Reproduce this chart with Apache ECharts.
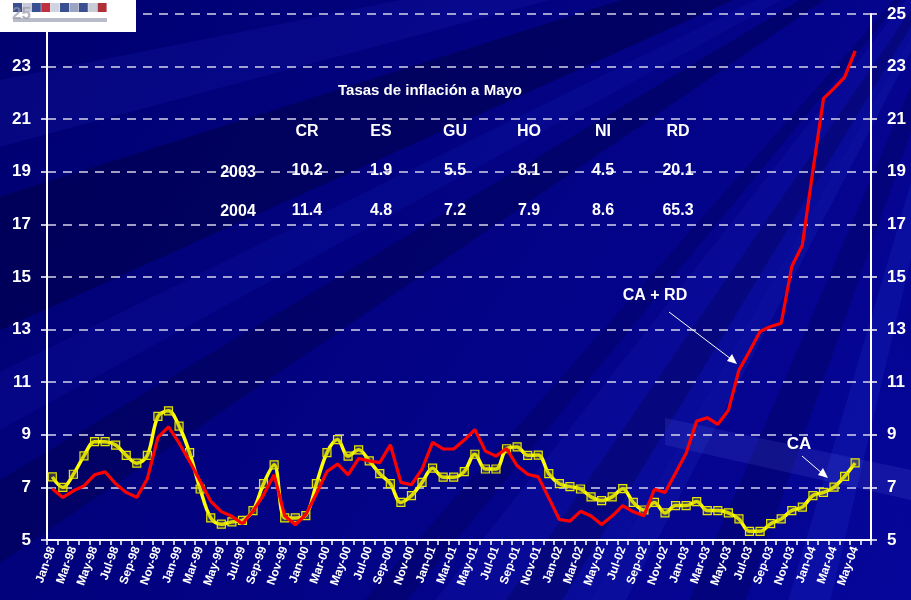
<!DOCTYPE html>
<html>
<head>
<meta charset="utf-8">
<script src="https://cdn.jsdelivr.net/npm/echarts@6/dist/echarts.min.js"></script>
<style>html,body{margin:0;padding:0;background:#02027c;}#c{width:911px;height:600px;}</style>
</head>
<body>
<div id="c"></div>
<script>
var months = ['Jan-98','Feb-98','Mar-98','Apr-98','May-98','Jun-98','Jul-98','Aug-98','Sep-98','Oct-98','Nov-98','Dec-98',
'Jan-99','Feb-99','Mar-99','Apr-99','May-99','Jun-99','Jul-99','Aug-99','Sep-99','Oct-99','Nov-99','Dec-99',
'Jan-00','Feb-00','Mar-00','Apr-00','May-00','Jun-00','Jul-00','Aug-00','Sep-00','Oct-00','Nov-00','Dec-00',
'Jan-01','Feb-01','Mar-01','Apr-01','May-01','Jun-01','Jul-01','Aug-01','Sep-01','Oct-01','Nov-01','Dec-01',
'Jan-02','Feb-02','Mar-02','Apr-02','May-02','Jun-02','Jul-02','Aug-02','Sep-02','Oct-02','Nov-02','Dec-02',
'Jan-03','Feb-03','Mar-03','Apr-03','May-03','Jun-03','Jul-03','Aug-03','Sep-03','Oct-03','Nov-03','Dec-03',
'Jan-04','Feb-04','Mar-04','Apr-04','May-04','Jun-04'];

var caValues = [7.4,7.0,7.5,8.2,8.74,8.74,8.61,8.22,7.92,8.22,9.7,9.91,
9.33,8.32,6.94,5.84,5.6,5.69,5.75,6.12,7.14,7.86,5.84,5.84,
5.93,7.14,8.32,8.82,8.19,8.43,8.01,7.52,7.14,6.43,6.69,7.19,
7.73,7.39,7.39,7.6,8.26,7.7,7.7,8.47,8.54,8.22,8.23,7.52,
7.14,7.03,6.94,6.64,6.5,6.64,6.95,6.43,6.14,6.43,6.03,6.31,
6.31,6.46,6.12,6.12,6.03,5.8,5.33,5.33,5.62,5.8,6.12,6.25,
6.69,6.81,7.01,7.42,7.93];

var caRdValues = [6.95,6.62,6.87,7.06,7.48,7.59,7.14,6.81,6.62,7.33,8.9,9.3,
8.69,7.99,7.23,6.47,6.08,5.9,5.62,6.1,6.72,7.48,5.92,5.58,
5.97,6.76,7.6,7.89,7.48,8.1,8.01,7.94,8.62,7.19,7.1,7.69,
8.71,8.46,8.46,8.8,9.2,8.38,8.19,8.48,7.82,7.5,7.4,6.6,
5.78,5.72,6.09,5.91,5.59,5.91,6.31,6.07,5.92,6.93,6.81,7.55,
8.3,9.52,9.65,9.4,9.93,11.46,12.18,12.93,13.12,13.24,15.4,16.21,
19.05,21.78,22.17,22.6,23.6];

var tableTitle = 'Tasas de inflación a Mayo';
var tableCols = ['CR','ES','GU','HO','NI','RD'];
var tableYears = ['2003','2004'];
var row2003 = ['10.2','1.9','5.5','8.1','4.5','20.1'];
var row2004 = ['11.4','4.8','7.2','7.9','8.6','65.3'];

var yMin = 5, yMax = 25, yStep = 2;

var chart = echarts.init(document.getElementById('c'));

var FONT = '"Liberation Sans", Arial, sans-serif';
var g = [];
// background streaks radiating from upper right
var fx = 1000, fy = -120;
var rays = [
  [[-200,260],[-200,420],'rgba(0,0,40,0.35)'],
  [[-200,600],[-200,700],'rgba(0,0,50,0.30)'],
  [[200,900],[420,900],'rgba(30,40,200,0.18)'],
  [[560,900],[640,900],'rgba(0,0,60,0.25)'],
  [[-200,120],[-200,200],'rgba(40,50,210,0.15)'],
  [[-200,-60],[-200,40],'rgba(0,0,50,0.30)'],
  [[300,900],[380,900],'rgba(0,0,50,0.25)'],
  [[700,900],[760,900],'rgba(40,60,220,0.18)'],
  [[-200,470],[-200,540],'rgba(30,40,200,0.15)'],
  [[420,900],[470,900],'rgba(50,70,230,0.15)'],
  [[100,900],[160,900],'rgba(0,0,50,0.22)']
];
rays.forEach(function(r){
  g.push({type:'polygon', z:-10, silent:true, shape:{points:[[fx,fy],r[0],r[1]]}, style:{fill:r[2]}});
});
// light band near bottom right
g.push({type:'polygon', z:-9, silent:true, shape:{points:[[665,418],[911,470],[911,500],[665,445]]}, style:{fill:'rgba(120,140,255,0.12)'}});

// logo
g.push({type:'rect', z:50, shape:{x:0,y:0,width:136,height:32}, style:{fill:'#ffffff'}});
var logoCols = ['#3a4f8f','#c8ccd8','#3a4f8f','#c03040','#d0d4e0','#3a4f8f','#9aa4c0','#3a4f8f','#c8ccd8','#b03038'];
for (var k = 0; k < logoCols.length; k++) {
  g.push({type:'rect', z:51, shape:{x:13 + k*9.4, y:3, width:9, height:9}, style:{fill:logoCols[k]}});
}
g.push({type:'rect', z:51, shape:{x:13, y:18, width:94, height:4}, style:{fill:'#b8bcc8'}});
g.push({type:'text', z:52, style:{text:'25', x:12, y:6, fill:'rgba(150,150,170,0.7)', font:'bold 17px ' + FONT}});

// table
g.push({type:'text', z:20, style:{text:tableTitle, x:430, y:91, textAlign:'center', textVerticalAlign:'middle', fill:'#ffffff', font:'bold 15px ' + FONT}});
var colX = [307,381,455,529,603,678];
tableCols.forEach(function(c,i){
  g.push({type:'text', z:20, style:{text:c, x:colX[i], y:132, textAlign:'center', textVerticalAlign:'middle', fill:'#ffffff', font:'bold 16px ' + FONT}});
  g.push({type:'text', z:20, style:{text:row2003[i], x:colX[i], y:171, textAlign:'center', textVerticalAlign:'middle', fill:'#ffffff', font:'bold 16px ' + FONT}});
  g.push({type:'text', z:20, style:{text:row2004[i], x:colX[i], y:211, textAlign:'center', textVerticalAlign:'middle', fill:'#ffffff', font:'bold 16px ' + FONT}});
});
g.push({type:'text', z:20, style:{text:tableYears[0], x:238, y:173, textAlign:'center', textVerticalAlign:'middle', fill:'#ffffff', font:'bold 16px ' + FONT}});
g.push({type:'text', z:20, style:{text:tableYears[1], x:238, y:212, textAlign:'center', textVerticalAlign:'middle', fill:'#ffffff', font:'bold 16px ' + FONT}});

// annotations
g.push({type:'text', z:20, style:{text:'CA + RD', x:655, y:296, textAlign:'center', textVerticalAlign:'middle', fill:'#ffffff', font:'bold 16px ' + FONT}});
g.push({type:'line', z:20, shape:{x1:669,y1:312,x2:731,y2:359}, style:{stroke:'#ffffff', lineWidth:1}});
g.push({type:'polygon', z:20, shape:{points:[[737,364],[727,361],[732,354]]}, style:{fill:'#ffffff'}});
g.push({type:'text', z:20, style:{text:'CA', x:799, y:444, textAlign:'center', textVerticalAlign:'middle', fill:'#ffffff', font:'bold 17px ' + FONT}});
g.push({type:'line', z:20, shape:{x1:802,y1:456,x2:823,y2:474}, style:{stroke:'#ffffff', lineWidth:1}});
g.push({type:'polygon', z:20, shape:{points:[[828,478],[818,475],[823,468]]}, style:{fill:'#ffffff'}});

var yAxisCommon = {
  type:'value', min:yMin, max:yMax, interval:yStep,
  axisLine:{show:true, lineStyle:{color:'#ffffff', width:2}},
  axisTick:{show:true, length:6, lineStyle:{color:'#ffffff', width:1.5}},
  axisLabel:{color:'#ffffff', fontFamily:FONT, fontWeight:'bold', fontSize:17, margin:16},
  splitLine:{show:true, lineStyle:{color:'rgba(235,235,245,0.9)', width:1.5, type:[9,7]}}
};

chart.setOption({
  backgroundColor:{type:'linear', x:0, y:0, x2:1, y2:1, colorStops:[{offset:0,color:'#000070'},{offset:0.5,color:'#030385'},{offset:1,color:'#06069a'}]},
  animation:false,
  graphic:g,
  grid:{left:47, right:40, top:14, bottom:60, containLabel:false},
  xAxis:{
    type:'category', data:months, boundaryGap:true,
    axisLine:{show:true, lineStyle:{color:'#ffffff', width:2}},
    axisTick:{show:true, interval:0, length:5, lineStyle:{color:'#ffffff', width:1.5}},
    axisLabel:{interval:1, rotate:70, color:'#ffffff', fontFamily:FONT, fontWeight:'bold', fontSize:12, margin:7},
    splitLine:{show:false}
  },
  yAxis:[
    Object.assign({position:'left'}, yAxisCommon),
    Object.assign({position:'right'}, yAxisCommon, {splitLine:{show:false}})
  ],
  series:[
    {
      name:'CA', type:'line', data:caValues, smooth:0.35, yAxisIndex:0, z:3,
      lineStyle:{color:'#ffff00', width:3.5},
      symbol:'rect', symbolSize:8, showAllSymbol:true,
      itemStyle:{color:'rgba(150,150,20,0.35)', borderColor:'#e6e600', borderWidth:1.2}
    },
    {
      name:'CA + RD', type:'line', data:caRdValues, smooth:false, yAxisIndex:0, z:4,
      lineStyle:{color:'#ff0000', width:3.2},
      symbol:'none'
    }
  ]
});
</script>
</body>
</html>
